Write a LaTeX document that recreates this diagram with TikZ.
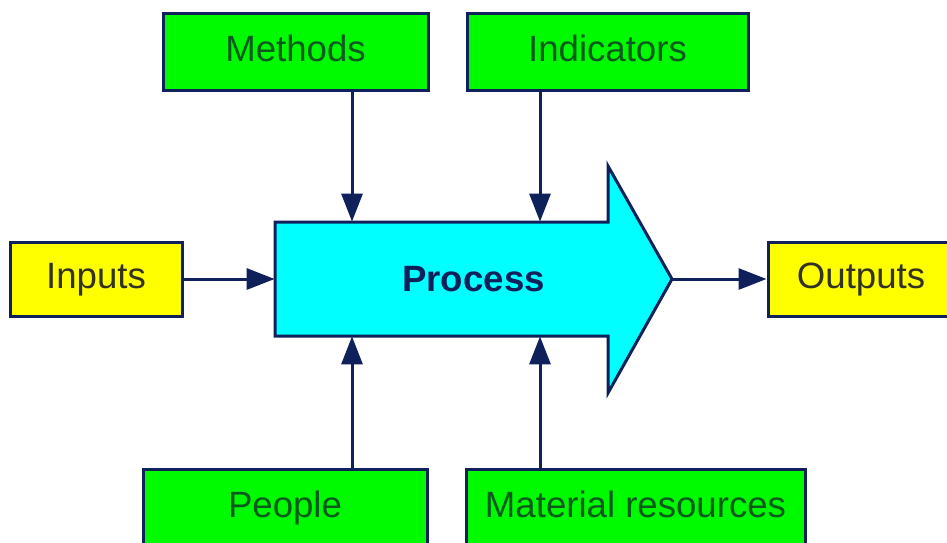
\documentclass[tikz,border=0pt]{standalone}
\usepackage{fontspec}
\setmainfont{Liberation Sans}
\usetikzlibrary{arrows.meta}
\definecolor{navy}{RGB}{16,32,90}
\definecolor{boxgreen}{RGB}{0,250,0}
\definecolor{boxcyan}{RGB}{0,255,255}
\definecolor{boxyellow}{RGB}{255,255,0}
\definecolor{darkgreen}{RGB}{10,90,30}
\definecolor{olive}{RGB}{50,50,30}
\begin{document}
\begin{tikzpicture}[x=0.5pt,y=-0.5pt,
		box/.style={draw=navy,line width=1.5pt,fill=boxgreen,text=darkgreen,minimum height=38.5pt,text height=13pt,text depth=3.5pt,font=\fontsize{18.3}{22}\selectfont},
		io/.style={draw=navy,line width=1.5pt,fill=boxyellow,text=olive,minimum height=37pt,text height=13pt,text depth=3.5pt,font=\fontsize{18.3}{22}\selectfont},
		flow/.style={draw=navy,line width=1.5pt,-{Triangle[length=14pt,width=10.5pt]}}]
			\useasboundingbox (0,0) rectangle (947,542);
			\fill[white] (0,0) rectangle (947,542);

			\draw[navy,line width=1.5pt,fill=boxcyan] (275,222)--(608,222)--(608,166)--(672,279)--(608,393)--(608,336)--(275,336)--cycle;
			\node[minimum width=198.5pt,minimum height=57pt,inner sep=0pt,text=navy,font=\fontsize{18.3}{22}\selectfont\bfseries] (process) at (473.5,279) {Process};

			\node[box,minimum width=132.5pt] (methods) at (295.5,51.5) {Methods};
			\node[box,minimum width=140.5pt] (indicators) at (607.5,51.5) {Indicators};
			\node[box,minimum width=142pt] (people) at (285,507.5) {People};
			\node[box,minimum width=169.5pt] (material) at (635.5,507.5) {Material resources};
			\node[io,minimum width=86pt] (inputs) at (96,279) {Inputs};
			\node[io,minimum width=93pt] (outputs) at (861,279) {Outputs};

			\coordinate (left) at (352,0);
			\coordinate (right) at (540,0);

			\draw[flow] (left |- methods.south)--(left |- process.north);
			\draw[flow] (right |- indicators.south)--(right |- process.north);
			\draw[flow] (left |- people.north)--(left |- process.south);
			\draw[flow] (right |- material.north)--(right |- process.south);
			\draw[flow] (inputs.east)--(process.west);
			\draw[flow] (process.east)--(outputs.west);
		\end{tikzpicture}
\end{document}
